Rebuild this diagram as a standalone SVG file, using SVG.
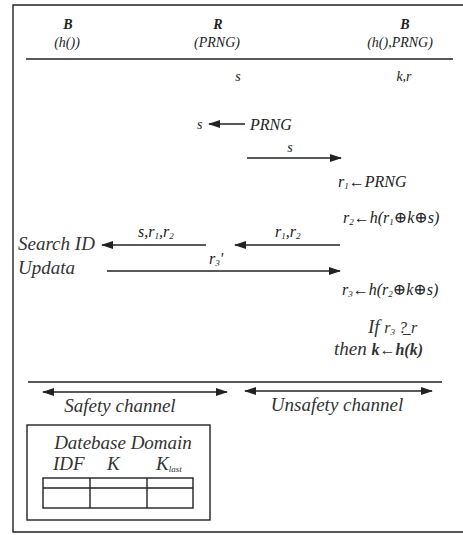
<svg xmlns="http://www.w3.org/2000/svg" width="463" height="535" viewBox="0 0 463 535">
<style>
text{font-family:"Liberation Serif","DejaVu Serif",serif;fill:#222;font-style:italic}
.h{font-size:14px}
.hb{font-size:14px;font-weight:bold}
.m{font-size:16px}
.b{font-size:19px;fill:#333}
.ln{stroke:#222;stroke-width:1.4;fill:none}
.sub{font-size:9px}
</style>
<defs>
<marker id="ah" viewBox="0 0 12 8" refX="11" refY="4" markerWidth="12" markerHeight="8" orient="auto-start-reverse" markerUnits="userSpaceOnUse"><path d="M0,0 L12,4 L0,8 z" fill="#222"/></marker>
</defs>
<rect width="463" height="535" fill="#fff"/>
<g id="frame">
<path class="ln" d="M463,5 H13 V532 H463"/>
</g>
<g id="header">
<text class="hb" x="68" y="29" text-anchor="middle">B</text>
<text class="h" x="67" y="47" text-anchor="middle" font-style="normal">(<tspan font-style="italic">h</tspan>())</text>
<text class="hb" x="218" y="29" text-anchor="middle">R</text>
<text class="h" x="217" y="47" text-anchor="middle">(PRNG)</text>
<text class="hb" x="405" y="29" text-anchor="middle" font-style="normal">B</text>
<text class="h" x="400" y="47" text-anchor="middle">(h(),PRNG)</text>
<line class="ln" x1="26" y1="59" x2="453" y2="59"/>
<text class="h" x="238" y="81" text-anchor="middle">s</text>
<text class="h" x="404" y="81" text-anchor="middle">k,r</text>
</g>
<g id="steps">
<text class="h" x="197" y="129">s</text>
<text class="m" x="250" y="130" font-size="17">PRNG</text>
<text class="h" x="290" y="152" text-anchor="middle">s</text>
<text class="m" x="338" y="187">r<tspan class="sub" dy="2">1</tspan><tspan dy="-2">←PRNG</tspan></text>
<text class="m" x="343" y="223">r<tspan class="sub" dy="2">2</tspan><tspan dy="-2">←h(r</tspan><tspan class="sub" dy="2">1</tspan><tspan dy="-2">⊕k⊕s)</tspan></text>
<text class="m" x="138" y="237" font-size="12">s,r<tspan class="sub" dy="2">1</tspan><tspan dy="-2">,r</tspan><tspan class="sub" dy="2">2</tspan></text>
<text class="m" x="275" y="237" font-size="13">r<tspan class="sub" dy="2">1</tspan><tspan dy="-2">,r</tspan><tspan class="sub" dy="2">2</tspan></text>
<text class="b" x="18" y="250">Search ID</text>
<text class="b" x="18" y="274">Updata</text>
<text class="m" x="209" y="264" font-size="12">r<tspan class="sub" dy="2">3</tspan><tspan dy="-2">'</tspan></text>
<text class="m" x="342" y="295">r<tspan class="sub" dy="2">3</tspan><tspan dy="-2">←h(r</tspan><tspan class="sub" dy="2">2</tspan><tspan dy="-2">⊕k⊕s)</tspan></text>
<text class="b" x="368" y="333" font-size="17">If <tspan class="m" font-size="15">r<tspan class="sub" dy="2">3</tspan><tspan dy="-2"> ?̲ r</tspan></tspan></text>
<text class="b" x="334" y="355" font-size="17">then <tspan class="m" font-size="15" font-weight="bold">k←h(k)</tspan></text>
</g>
<g id="connectors">
<line class="ln" x1="245" y1="124" x2="209" y2="124" marker-end="url(#ah)"/>
<line class="ln" x1="247" y1="158" x2="341" y2="158" marker-end="url(#ah)"/>
<line class="ln" x1="206" y1="245" x2="102" y2="245" marker-end="url(#ah)"/>
<line class="ln" x1="340" y1="245" x2="235" y2="245" marker-end="url(#ah)"/>
<line class="ln" x1="107" y1="271" x2="340" y2="271" marker-end="url(#ah)"/>
<line class="ln" x1="28" y1="382" x2="442" y2="382"/>
<line class="ln" x1="43" y1="392" x2="227" y2="392" marker-start="url(#ah)" marker-end="url(#ah)"/>
<line class="ln" x1="245" y1="391" x2="432" y2="391" marker-start="url(#ah)" marker-end="url(#ah)"/>
</g>
<g id="channels">
<text class="b" x="120" y="412" text-anchor="middle">Safety channel</text>
<text class="b" x="337" y="411" text-anchor="middle">Unsafety channel</text>
</g>
<g id="database">
<rect class="ln" x="27" y="425" width="183" height="95"/>
<text class="b" x="123" y="449" text-anchor="middle">Datebase Domain</text>
<text class="b" x="53" y="470">IDF</text>
<text class="b" x="107" y="470">K</text>
<text class="b" x="156" y="470">K<tspan class="sub" dy="2" font-size="8">last</tspan></text>
<rect class="ln" x="43" y="478" width="150" height="30"/>
<line class="ln" x1="43" y1="488" x2="193" y2="488"/>
<line class="ln" x1="90" y1="478" x2="90" y2="508"/>
<line class="ln" x1="147" y1="478" x2="147" y2="508"/>
</g>
</svg>
